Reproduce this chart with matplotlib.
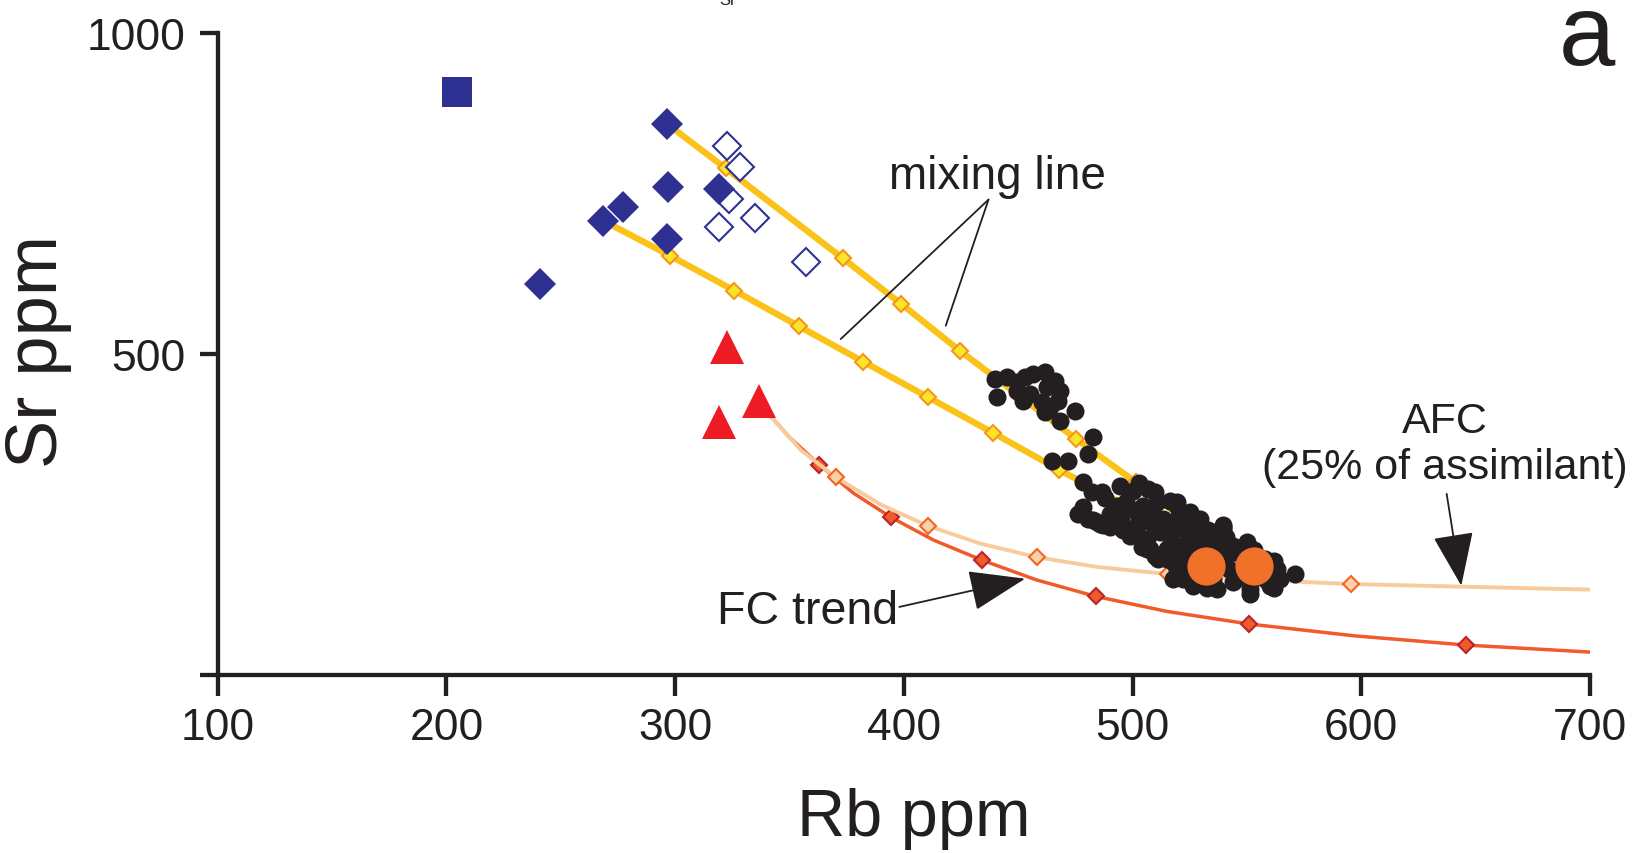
import matplotlib
matplotlib.use("Agg")
import matplotlib.pyplot as plt

INK = "#231F20"
BLUE = "#2E3192"
RED = "#ED1C24"
MIX_LINE = "#FBC219"
MIX_FILL = "#F9E629"
MIX_EDGE = "#F7941D"
FC_LINE = "#F15A29"
FC_EDGE = "#B8232C"
AFC_LINE = "#F9CB9C"
AFC_FILL = "#FBD1A7"
AFC_EDGE = "#F26522"
ORANGE = "#F0712A"

plt.rcParams["font.family"] = ["Liberation Sans", "DejaVu Sans"]

# ---- samples ----
square_rb = [204.6]
square_sr = [908.0]

dia_fill_rb = [296.6, 297.0, 319.3, 277.3, 268.6, 296.6, 241.0]
dia_fill_sr = [857.6, 759.0, 756.3, 727.9, 707.1, 678.6, 608.3]

dia_open_rb = [322.5, 328.4, 323.7, 319.2, 334.9, 357.1]
dia_open_sr = [822.9, 790.2, 740.9, 696.8, 711.3, 642.3]

tri_rb = [322.5, 319.3, 336.8]
tri_sr = [510.0, 393.3, 427.0]

dots_rb = [
    440.0, 445.0, 449.3, 440.6, 453.0, 456.6, 461.7, 452.2, 449.3, 455.1,
    462.4, 466.1, 468.3, 460.3, 463.9, 467.5, 461.7, 468.3, 474.8, 482.8,
    480.6, 464.6, 471.9,
    478.5, 482.1, 486.5, 478.5, 480.6, 485.8, 494.5, 500.3, 506.9, 509.8,
    493.1, 498.9, 504.7, 510.5, 516.4, 519.3, 495.9, 501.8, 507.6, 513.4,
    517.8, 498.9, 506.2, 512.0, 516.4, 507.6, 514.9, 519.3, 484.3, 490.0,
    519.3, 525.1, 529.5, 539.7, 549.9, 506.2, 516.4, 532.4, 519.3, 517.8,
    526.6, 536.8, 551.4, 560.1, 564.5, 563.0, 571.0, 544.1, 512.0, 522.2,
    514.9, 556.5, 522.2, 551.4, 539.7, 530.0, 541.0, 546.0, 555.0, 528.0,
    535.0, 545.0, 524.0, 533.0, 558.0, 542.0,
    476.0, 482.7, 487.0, 496.0, 505.5, 503.0, 488.0, 492.0, 497.0, 503.0,
    509.0, 514.0, 520.0, 524.0, 528.0, 533.0, 537.0, 541.0, 546.0, 549.0,
    553.0, 558.0, 560.0, 547.0, 540.0, 534.0, 527.0, 522.0, 510.0, 504.0,
    500.0, 490.0, 495.0, 523.6, 532.7, 562.0, 539.5, 562.0, 511.0, 527.0,
    531.0, 544.0, 552.0, 518.0,
]
dots_sr = [
    460.7, 463.3, 455.6, 432.2, 463.3, 468.5, 471.1, 426.9, 442.5, 437.4,
    447.8, 458.0, 442.5, 424.4, 416.7, 426.9, 408.9, 395.8, 411.4, 370.0,
    344.0, 333.5, 333.5,
    300.0, 284.4, 284.4, 261.0, 242.8, 235.0, 294.6, 286.9, 289.5, 284.4,
    263.5, 258.4, 263.5, 268.8, 271.3, 263.5, 232.4, 232.4, 237.7, 242.8,
    237.7, 216.8, 211.7, 222.1, 216.8, 196.1, 196.1, 201.2, 237.7, 250.0,
    268.8, 253.2, 242.8, 229.9, 206.5, 196.1, 196.1, 211.7, 165.0, 149.4,
    139.0, 133.9, 133.9, 139.0, 149.4, 165.0, 157.2, 201.2, 227.2, 227.2,
    180.5, 175.4, 149.4, 126.1, 227.2, 190.0, 185.0, 190.0, 160.0, 175.0,
    150.0, 150.0, 205.0, 215.0, 150.0, 165.0,
    250.0, 242.0, 234.0, 226.0, 209.0, 299.0, 275.0, 250.0, 270.0, 245.0,
    252.0, 230.0, 245.0, 230.0, 220.0, 225.0, 205.0, 215.0, 195.0, 185.0,
    195.0, 180.0, 160.0, 160.0, 170.0, 185.0, 175.0, 190.0, 185.0, 200.0,
    225.0, 230.0, 240.0, 169.0, 136.0, 136.0, 234.0, 177.0, 180.0, 200.0,
    160.0, 145.0, 150.0, 175.0,
]

end_rb = [531.9, 553.1]
end_sr = [170.1, 169.2]

# ---- model curves ----
mix_up_rb = [296.6, 322.1, 373.3, 398.9, 424.5, 450.0, 475.3, 501.5, 526.0]
mix_up_sr = [857.6, 788.6, 648.6, 577.4, 504.7, 436.0, 367.3, 299.9, 232.0]
mix_up_tick_rb = [322.1, 373.3, 398.9, 424.5, 450.0, 475.3, 501.5]
mix_up_tick_sr = [788.6, 648.6, 577.4, 504.7, 436.0, 367.3, 299.9]

mix_lo_rb = [268.6, 297.8, 325.9, 354.2, 382.3, 410.7, 439.1, 467.8, 496.0, 523.2]
mix_lo_sr = [707.1, 652.6, 598.3, 542.7, 487.6, 432.2, 376.7, 319.5, 266.0, 219.5]
mix_lo_tick_rb = mix_lo_rb[1:]
mix_lo_tick_sr = mix_lo_sr[1:]

fc_rb = [342.2, 350.0, 363.0, 378.0, 394.4, 413.0, 434.0, 458.0, 483.8,
         515.0, 551.0, 597.0, 645.6, 702.0]
fc_sr = [401.0, 370.0, 327.3, 283.0, 245.4, 210.0, 179.0, 148.0, 122.5,
         99.0, 79.4, 61.0, 46.7, 35.3]
fc_tick_rb = [363.0, 394.4, 434.0, 483.8, 551.0, 645.6]
fc_tick_sr = [327.3, 245.4, 179.0, 122.5, 79.4, 46.7]

afc_rb = [342.2, 355.0, 370.3, 390.0, 410.4, 433.0, 458.4, 485.0, 515.6,
          555.0, 595.4, 650.0, 702.0]
afc_sr = [401.0, 350.0, 307.7, 265.0, 232.4, 205.0, 183.2, 168.0, 157.2,
          148.0, 141.6, 137.0, 132.8]
afc_tick_rb = [370.3, 410.4, 458.4, 515.6, 595.4]
afc_tick_sr = [307.7, 232.4, 183.2, 157.2, 141.6]

x_ticks = [100, 200, 300, 400, 500, 600, 700]
y_ticks = [0, 500, 1000]
y_tick_labels = ["", "500", "1000"]

fig = plt.figure(figsize=(16.32, 8.54), dpi=100)
ax = fig.add_axes([0.1334, 0.2084, 0.8409, 0.7523])

# mixing lines with their increment ticks
for xs, ys, tx, ty in [(mix_up_rb, mix_up_sr, mix_up_tick_rb, mix_up_tick_sr),
                       (mix_lo_rb, mix_lo_sr, mix_lo_tick_rb, mix_lo_tick_sr)]:
    ax.plot(xs, ys, color=MIX_LINE, lw=4.6, solid_capstyle="butt", zorder=2)
    ax.plot(tx, ty, ls="none", marker="D", ms=8.4, mfc=MIX_FILL,
            mec=MIX_EDGE, mew=1.5, zorder=3)

# fractional crystallisation and AFC paths
ax.plot(fc_rb, fc_sr, color=FC_LINE, lw=2.5, zorder=2)
ax.plot(fc_tick_rb, fc_tick_sr, ls="none", marker="D", ms=8.2, mfc=FC_LINE,
        mec=FC_EDGE, mew=1.5, zorder=3)
ax.plot(afc_rb, afc_sr, color=AFC_LINE, lw=2.8, zorder=3)
ax.plot(afc_tick_rb, afc_tick_sr, ls="none", marker="D", ms=8.2, mfc=AFC_FILL,
        mec=AFC_EDGE, mew=1.5, zorder=3.5)

# samples
ax.plot(dia_open_rb, dia_open_sr, ls="none", marker="D", ms=14.2, mfc="white",
        mec=BLUE, mew=1.5, zorder=4)
ax.plot(dia_fill_rb, dia_fill_sr, ls="none", marker="D", ms=16.3, mfc=BLUE,
        mec=BLUE, mew=0, zorder=5)
ax.plot(square_rb, square_sr, ls="none", marker="s", ms=22, mfc=BLUE,
        mec=BLUE, mew=0, zorder=5)
ax.plot(tri_rb, tri_sr, ls="none", marker="^", ms=24, mfc=RED, mec=RED,
        mew=0, zorder=5)
ax.plot(dots_rb, dots_sr, ls="none", marker="o", ms=13, mfc=INK, mec=INK,
        mew=0, zorder=6)
ax.plot(end_rb, end_sr, ls="none", marker="o", ms=27.5, mfc=ORANGE,
        mec=ORANGE, mew=0, zorder=7)

# annotations
ax.text(441.0, 777, "mixing line", fontsize=33, color=INK,
        ha="center", va="center", zorder=8)
for end in [(372.4, 523.0), (418.3, 543.7)]:
    ax.annotate("", xy=end, xytext=(437.0, 740.0),
                arrowprops=dict(arrowstyle="-", color=INK, lw=1.3,
                                shrinkA=0, shrinkB=0), zorder=8)

ax.text(636.3, 360, "AFC\n(25% of assimilant)", fontsize=31, color=INK,
        ha="center", va="center", linespacing=1.2, zorder=8)
ax.annotate("", xy=(643.7, 139.0), xytext=(637.3, 282.0),
            arrowprops=dict(arrowstyle="-|>,head_length=1.7,head_width=0.65",
                            mutation_scale=20, color=INK, lw=1.3,
                            shrinkA=0, shrinkB=0), zorder=8)

ax.text(358.0, 99, "FC trend", fontsize=33.5, color=INK,
        ha="center", va="center", zorder=8)
ax.annotate("", xy=(453.0, 150.0), xytext=(398.0, 106.0),
            arrowprops=dict(arrowstyle="-|>,head_length=1.8,head_width=0.65",
                            mutation_scale=20, color=INK, lw=1.3,
                            shrinkA=0, shrinkB=0), zorder=8)

# axes
ax.set_xlim(100, 700)
ax.set_ylim(0, 1000)
for side in ["top", "right"]:
    ax.spines[side].set_visible(False)
for side in ["left", "bottom"]:
    ax.spines[side].set_linewidth(3.1)
    ax.spines[side].set_color(INK)
    ax.spines[side].set_capstyle("projecting")
ax.set_xticks(x_ticks)
ax.set_yticks(y_ticks)
ax.set_yticklabels(y_tick_labels)
ax.tick_params(axis="x", direction="out", length=15, width=3.1, color=INK,
               labelsize=32, pad=8, labelcolor=INK)
ax.tick_params(axis="y", direction="out", length=13, width=3.1, color=INK,
               labelsize=32, pad=10, labelcolor=INK)
ax.patch.set_visible(False)

fig.text(38 / 1632, 1 - 352 / 854, "Sr ppm", rotation=90, fontsize=52,
         color=INK, ha="center", va="center")
fig.text(914 / 1632, 1 - 819 / 854, "Rb ppm", fontsize=48, color=INK,
         ha="center", va="center")
fig.text(1587 / 1632, 1 - 65 / 854, "a", fontsize=73, color=INK,
         ha="center", va="baseline")
fig.text(728 / 1632, 1 - 5 / 854, "Sr", fontsize=12, color=INK,
         ha="center", va="baseline")

fig.savefig("out.png", dpi=100, facecolor="white")
